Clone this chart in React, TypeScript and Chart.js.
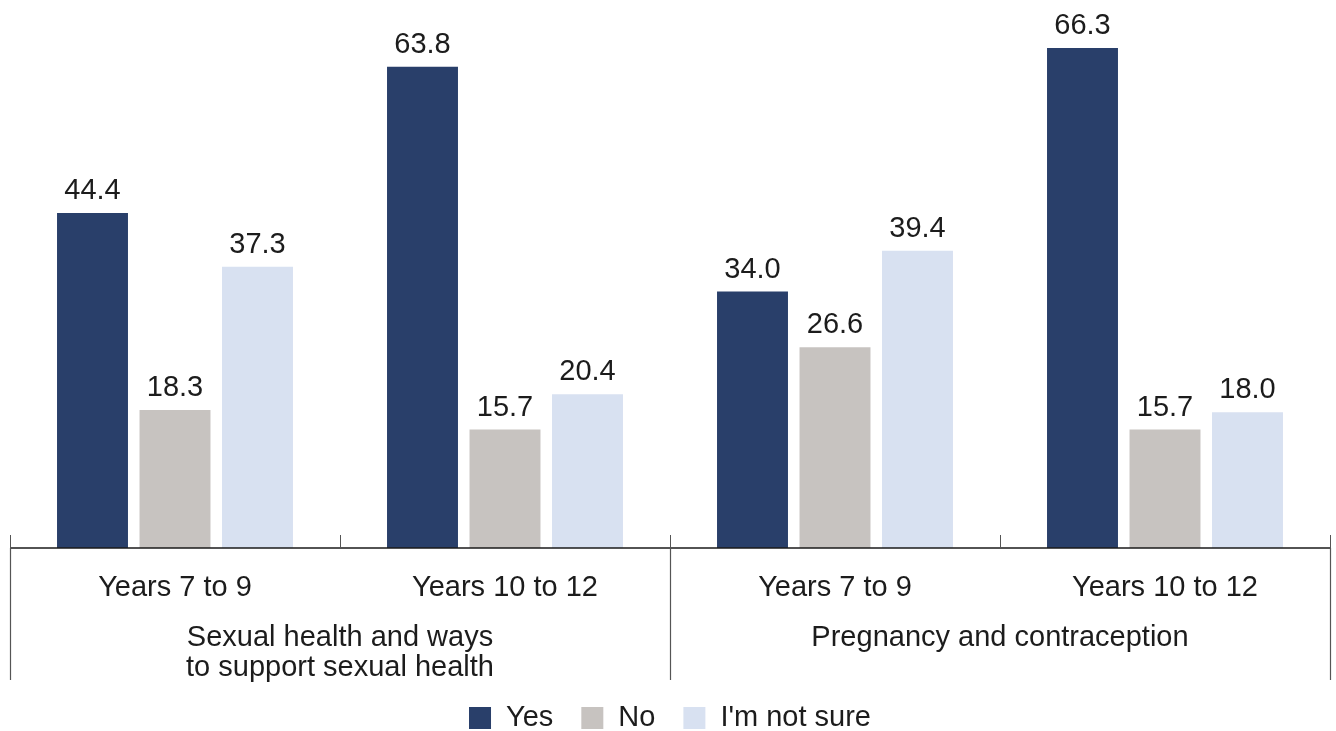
import React, { useEffect, useRef } from "react";
import { Chart, registerables } from "chart.js";

Chart.register(...registerables);

const categories = ["Years 7 to 9", "Years 10 to 12", "Years 7 to 9", "Years 10 to 12"];
const groups: string[][] = [
  ["Sexual health and ways", "to support sexual health"],
  ["Pregnancy and contraception"],
];
const groupSizes = [2, 2];
const seriesNames = ["Yes", "No", "I'm not sure"];
const yesValues = [44.4, 63.8, 34.0, 66.3];
const noValues = [18.3, 15.7, 26.6, 15.7];
const unsureValues = [37.3, 20.4, 39.4, 18.0];
const colors = ["#293f6a", "#c7c3c0", "#d8e1f1"];

const FONT = "'Liberation Sans', Arial, sans-serif";
const TEXT = "#1c1c1c";

const drawPlugin = {
  id: "customDraw",
  afterDatasetsDraw(chart: any) {
    const ctx = chart.ctx;
    const x = chart.scales.x;
    const area = chart.chartArea;
    const n = categories.length;
    const step = n > 1 ? x.getPixelForValue(1) - x.getPixelForValue(0) : area.right - area.left;
    const edge = (i: number) => x.getPixelForValue(i) - step / 2;
    const base = area.bottom;
    ctx.save();

    // axis line
    ctx.strokeStyle = "#1a1a1a";
    ctx.lineWidth = 1.5;
    ctx.beginPath();
    ctx.moveTo(edge(0), base);
    ctx.lineTo(edge(n), base);
    ctx.stroke();

    // small ticks at category boundaries
    ctx.strokeStyle = "#555";
    ctx.lineWidth = 1;
    for (let i = 0; i <= n; i++) {
      const px = Math.round(edge(i)) + 0.5;
      ctx.beginPath();
      ctx.moveTo(px, base - 13);
      ctx.lineTo(px, base);
      ctx.stroke();
    }
    // long lines at group boundaries
    let idx = 0;
    const bounds = [0];
    groupSizes.forEach((s) => {
      idx += s;
      bounds.push(idx);
    });
    ctx.strokeStyle = "#555";
    ctx.lineWidth = 1.2;
    bounds.forEach((b) => {
      const px = Math.round(edge(b)) + 0.5;
      ctx.beginPath();
      ctx.moveTo(px, base);
      ctx.lineTo(px, base + 132);
      ctx.stroke();
    });

    // category labels
    ctx.fillStyle = TEXT;
    ctx.font = `29px ${FONT}`;
    ctx.textAlign = "center";
    ctx.textBaseline = "middle";
    categories.forEach((c, i) => {
      ctx.fillText(c, x.getPixelForValue(i), base + 40);
    });
    // group labels
    let start = 0;
    groups.forEach((lines, g) => {
      const end = start + groupSizes[g];
      const cx = (edge(start) + edge(end)) / 2;
      lines.forEach((l, li) => {
        ctx.fillText(l, cx, base + 90 + li * 30);
      });
      start = end;
    });

    // data labels
    chart.data.datasets.forEach((ds: any, di: number) => {
      const meta = chart.getDatasetMeta(di);
      meta.data.forEach((el: any, i: number) => {
        const v = ds.data[i];
        ctx.fillText(Number(v).toFixed(1), el.x, el.y - 22);
      });
    });

    // legend
    ctx.font = `29px ${FONT}`;
    ctx.textAlign = "left";
    const box = 22;
    const gapBoxText = 15;
    const gapItems = 28;
    const widths = seriesNames.map((s) => ctx.measureText(s).width);
    const total =
      widths.reduce((a, w) => a + box + gapBoxText + w, 0) + gapItems * (seriesNames.length - 1);
    let lx = (area.left + area.right) / 2 - total / 2;
    const ly = 718;
    seriesNames.forEach((s, i) => {
      ctx.fillStyle = colors[i];
      ctx.fillRect(lx, ly - box / 2, box, box);
      ctx.fillStyle = TEXT;
      ctx.fillText(s, lx + box + gapBoxText, ly);
      lx += box + gapBoxText + widths[i] + gapItems;
    });

    ctx.restore();
  },
};

export default function App() {
  const ref = useRef<HTMLCanvasElement | null>(null);
  useEffect(() => {
    if (!ref.current) return;
    const series = [yesValues, noValues, unsureValues];
    const chart = new Chart(ref.current, {
      type: "bar",
      data: {
        labels: categories,
        datasets: series.map((d, i) => ({
          label: seriesNames[i],
          data: d,
          backgroundColor: colors[i],
          borderWidth: 0,
          categoryPercentage: 0.75,
          barPercentage: 0.86,
        })),
      },
      options: {
        responsive: false,
        animation: false,
        layout: { padding: { left: 10, right: 6, top: 20, bottom: 183 } },
        plugins: {
          legend: { display: false },
          tooltip: { enabled: false },
        },
        scales: {
          x: { display: false, offset: true },
          y: { display: false, min: 0, max: 70 },
        },
      },
      plugins: [drawPlugin],
    });
    return () => chart.destroy();
  }, []);
  return (
    <div style={{ position: "absolute", left: 0, top: 0, width: 1336, height: 731, background: "#fff" }}>
      <canvas ref={ref} width={1336} height={731} style={{ display: "block" }} />
    </div>
  );
}
